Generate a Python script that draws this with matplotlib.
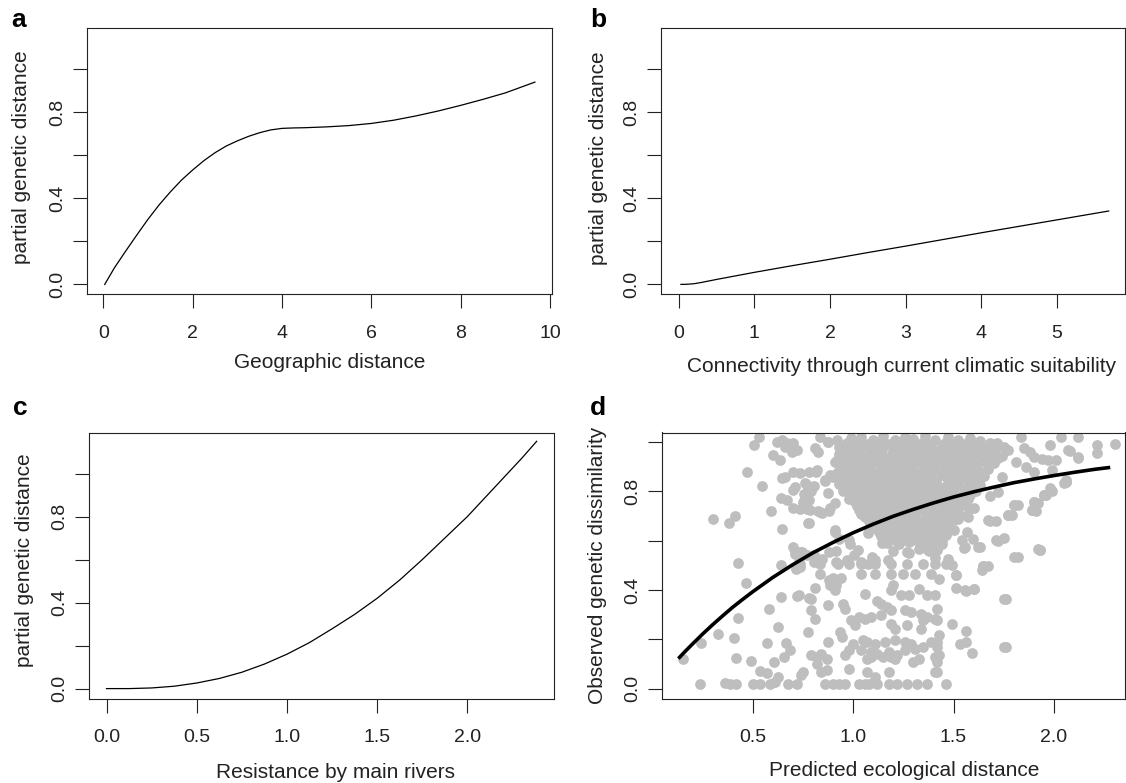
import matplotlib
matplotlib.use("Agg")
import matplotlib.pyplot as plt

plt.rcParams['font.family'] = ['Liberation Sans', 'DejaVu Sans']

# panel a: partial effect of geographic distance
geo_x = [0.03, 0.25, 0.5, 0.75, 1.0, 1.25, 1.5, 1.75, 2.0, 2.25, 2.5, 2.75, 3.0,
         3.25, 3.5, 3.75, 4.0, 4.25, 4.5, 5.0, 5.5, 6.0, 6.5, 7.0, 7.5, 8.0, 8.5, 9.0, 9.66]
geo_y = [0.0, 0.078, 0.155, 0.23, 0.303, 0.37, 0.43, 0.485, 0.532, 0.575, 0.612, 0.643, 0.667,
         0.688, 0.705, 0.718, 0.725, 0.727, 0.728, 0.732, 0.738, 0.748, 0.763, 0.783, 0.806,
         0.832, 0.86, 0.89, 0.94]

# panel b: connectivity through current climatic suitability
conn_x = [0.03, 0.1, 0.2, 0.3, 0.5, 1.0, 1.5, 2.0, 2.5, 3.0, 3.5, 4.0, 4.5, 5.0, 5.68]
conn_y = [0.0, 0.0005, 0.003, 0.009, 0.023, 0.056, 0.087, 0.117, 0.148, 0.178, 0.209,
          0.24, 0.27, 0.30, 0.341]

# panel c: resistance by main rivers
river_x = [0.0, 0.125, 0.25, 0.375, 0.5, 0.625, 0.75, 0.875, 1.0, 1.125, 1.25, 1.375, 1.5,
           1.625, 1.75, 1.875, 2.0, 2.1, 2.2, 2.3, 2.384]
river_y = [0.0, 0.0, 0.003, 0.011, 0.026, 0.047, 0.076, 0.114, 0.16, 0.214, 0.278, 0.345,
           0.42, 0.505, 0.60, 0.70, 0.80, 0.89, 0.98, 1.07, 1.15]

# panel d: fitted GDM curve
eco_x = [0.13, 0.16, 0.2, 0.25, 0.3, 0.35, 0.4, 0.45, 0.5, 0.6, 0.7, 0.8, 0.9, 1.0, 1.1,
         1.2, 1.3, 1.4, 1.5, 1.6, 1.7, 1.8, 1.9, 2.0, 2.1, 2.2, 2.28]
eco_y = [0.122, 0.148, 0.181, 0.221, 0.259, 0.295, 0.33, 0.362, 0.393, 0.451, 0.503, 0.551,
         0.593, 0.632, 0.667, 0.699, 0.727, 0.753, 0.777, 0.798, 0.817, 0.835, 0.85, 0.864,
         0.877, 0.889, 0.897]

# panel d: observed pairs, read region by region
pts_left = [(0.533, 1.02), (0.507, 0.988), (0.62, 1.001), (0.645, 1.008), (0.669, 0.994),
            (0.694, 0.961), (0.603, 0.947), (0.636, 0.927), (0.661, 0.981), (0.703, 0.994),
            (0.47, 0.878), (0.545, 0.822), (0.645, 0.853), (0.66, 0.86), (0.703, 0.88),
            (0.711, 0.819), (0.703, 0.805), (0.639, 0.772), (0.672, 0.765), (0.703, 0.731),
            (0.592, 0.722), (0.30, 0.687), (0.382, 0.670), (0.414, 0.699), (0.645, 0.646),
            (0.711, 0.56), (0.429, 0.508), (0.639, 0.502), (0.72, 0.489), (0.467, 0.43),
            (0.639, 0.373), (0.72, 0.375), (0.583, 0.324), (0.429, 0.285), (0.628, 0.251),
            (0.329, 0.222), (0.409, 0.204), (0.243, 0.186), (0.571, 0.187), (0.667, 0.187),
            (0.687, 0.157), (0.155, 0.119), (0.419, 0.123), (0.492, 0.114), (0.606, 0.11),
            (0.656, 0.128), (0.537, 0.073), (0.57, 0.062), (0.628, 0.046), (0.238, 0.019),
            (0.36, 0.025), (0.385, 0.019), (0.415, 0.019), (0.50, 0.02), (0.537, 0.02),
            (0.586, 0.02), (0.611, 0.026), (0.678, 0.02), (0.72, 0.02)]

pts_midleft = [(0.781, 0.878), (0.817, 0.88), (0.826, 0.96), (0.835, 1.02), (0.875, 0.998),
               (0.93, 0.98), (0.925, 0.93), (0.885, 0.865), (0.86, 0.847), (0.807, 0.82),
               (0.79, 0.80), (0.77, 0.827), (0.754, 0.79), (0.78, 0.763), (0.736, 0.73),
               (0.772, 0.73), (0.78, 0.67), (0.826, 0.72), (0.843, 0.714), (0.879, 0.72),
               (0.909, 0.636), (0.72, 0.968), (0.81, 0.975), (0.877, 1.0), (0.736, 0.873),
               (0.82, 0.887), (0.76, 0.833), (0.777, 0.80), (0.86, 0.84), (0.75, 0.758),
               (0.786, 0.724), (0.835, 0.717), (0.885, 0.731), (0.91, 0.751), (0.777, 0.67),
               (0.91, 0.643), (0.744, 0.555), (0.73, 0.515), (0.877, 0.792), (0.96, 0.833),
               (0.70, 0.575), (0.736, 0.554), (0.772, 0.540), (0.807, 0.513), (0.843, 0.527),
               (0.879, 0.554), (0.915, 0.513), (0.968, 0.520), (1.004, 0.540), (1.04, 0.513),
               (1.075, 0.507), (1.111, 0.520), (0.71, 0.547), (0.736, 0.493), (0.807, 0.54),
               (0.834, 0.466), (0.879, 0.439), (0.915, 0.419), (0.718, 0.486), (0.915, 0.56),
               (0.93, 0.608), (0.986, 0.588)]

pts_core = [(0.92, 1.01), (0.99, 1.015), (1.04, 1.02), (1.10, 1.01), (1.15, 1.025),
            (1.21, 1.01), (1.26, 1.02), (1.30, 1.012), (1.36, 1.025), (1.41, 1.01),
            (1.47, 1.02), (1.52, 1.008), (1.58, 1.015), (1.63, 1.005),
            (0.95, 0.98), (1.0, 0.975), (1.06, 0.985), (1.12, 0.978), (1.17, 0.99),
            (1.23, 0.975), (1.28, 0.985), (1.33, 0.98), (1.38, 0.99), (1.44, 0.978),
            (1.49, 0.985), (1.55, 0.975), (1.60, 0.982), (1.66, 0.972), (1.71, 0.98),
            (0.93, 0.95), (0.98, 0.945), (1.03, 0.955), (1.08, 0.948), (1.13, 0.952),
            (1.19, 0.945), (1.24, 0.955), (1.29, 0.95), (1.35, 0.945), (1.40, 0.955),
            (1.45, 0.948), (1.51, 0.952), (1.56, 0.944), (1.62, 0.955), (1.68, 0.948),
            (1.74, 0.945),
            (0.91, 0.92), (0.96, 0.915), (1.01, 0.925), (1.06, 0.918), (1.11, 0.922),
            (1.16, 0.915), (1.22, 0.925), (1.27, 0.918), (1.32, 0.922), (1.37, 0.915),
            (1.43, 0.925), (1.48, 0.918), (1.53, 0.92), (1.59, 0.914), (1.64, 0.922),
            (1.70, 0.915),
            (0.94, 0.89), (0.99, 0.885), (1.04, 0.895), (1.09, 0.888), (1.14, 0.892),
            (1.20, 0.885), (1.25, 0.895), (1.30, 0.888), (1.35, 0.892), (1.41, 0.885),
            (1.46, 0.895), (1.52, 0.888), (1.57, 0.89), (1.62, 0.884), (1.67, 0.892),
            (0.90, 0.86), (0.96, 0.855), (1.02, 0.865), (1.07, 0.858), (1.12, 0.862),
            (1.18, 0.855), (1.23, 0.865), (1.28, 0.858), (1.34, 0.862), (1.39, 0.855),
            (1.44, 0.865), (1.49, 0.858), (1.55, 0.86), (1.60, 0.854), (1.65, 0.862),
            (0.93, 0.83), (0.98, 0.825), (1.04, 0.835), (1.09, 0.828), (1.15, 0.832),
            (1.20, 0.825), (1.25, 0.835), (1.31, 0.828), (1.36, 0.832), (1.42, 0.825),
            (1.47, 0.835), (1.52, 0.828), (1.58, 0.83), (1.63, 0.824),
            (0.95, 0.80), (1.01, 0.795), (1.06, 0.805), (1.11, 0.798), (1.17, 0.802),
            (1.22, 0.795), (1.27, 0.805), (1.33, 0.798), (1.38, 0.802), (1.43, 0.795),
            (1.49, 0.805), (1.55, 0.798), (1.61, 0.80),
            (0.98, 0.77), (1.04, 0.765), (1.09, 0.775), (1.14, 0.768), (1.19, 0.772),
            (1.25, 0.765), (1.30, 0.775), (1.35, 0.768), (1.41, 0.772), (1.46, 0.765),
            (1.51, 0.775), (1.57, 0.768),
            (1.02, 0.74), (1.07, 0.735), (1.12, 0.745), (1.17, 0.738), (1.23, 0.742),
            (1.28, 0.735), (1.33, 0.745), (1.38, 0.738), (1.44, 0.742), (1.49, 0.735),
            (1.54, 0.745),
            (1.04, 0.71), (1.10, 0.705), (1.15, 0.715), (1.20, 0.708), (1.26, 0.712),
            (1.31, 0.705), (1.36, 0.715), (1.42, 0.708), (1.47, 0.712), (1.53, 0.705),
            (1.08, 0.68), (1.13, 0.675), (1.18, 0.685), (1.24, 0.678), (1.29, 0.682),
            (1.34, 0.675), (1.39, 0.685), (1.45, 0.678), (1.50, 0.682),
            (1.11, 0.65), (1.16, 0.645), (1.21, 0.655), (1.27, 0.648), (1.32, 0.652),
            (1.37, 0.645), (1.42, 0.655), (1.48, 0.648),
            (1.14, 0.62), (1.19, 0.615), (1.25, 0.625), (1.30, 0.618), (1.35, 0.622),
            (1.40, 0.615), (1.46, 0.625),
            (1.17, 0.59), (1.23, 0.585), (1.28, 0.595), (1.34, 0.588), (1.39, 0.592),
            (1.44, 0.585),
            (1.20, 0.56), (1.27, 0.555), (1.33, 0.565), (1.38, 0.558),
            (0.977, 0.603), (1.026, 0.562), (1.076, 0.63), (1.093, 0.535), (1.143, 0.589),
            (1.176, 0.521), (1.243, 0.603), (1.276, 0.549), (1.326, 0.616), (1.375, 0.562),
            (1.408, 0.528), (1.209, 0.657), (1.392, 0.643)]

# the blob is solid grey in the picture: second, staggered set of pairs in it
pts_core_fill = [(0.97, 0.995), (1.02, 0.998), (1.075, 0.992), (1.13, 0.997), (1.19, 0.993),
                 (1.24, 0.998), (1.29, 0.994), (1.345, 0.996), (1.39, 0.992), (1.455, 0.997),
                 (1.50, 0.993), (1.565, 0.996), (1.615, 0.992), (1.68, 0.995),
                 (0.96, 0.965), (1.03, 0.968), (1.09, 0.962), (1.145, 0.967), (1.20, 0.963),
                 (1.255, 0.966), (1.31, 0.962), (1.36, 0.968), (1.42, 0.964), (1.47, 0.967),
                 (1.53, 0.962), (1.58, 0.966), (1.64, 0.963), (1.70, 0.967),
                 (0.95, 0.935), (1.00, 0.932), (1.055, 0.937), (1.105, 0.933), (1.16, 0.936),
                 (1.215, 0.932), (1.265, 0.937), (1.32, 0.934), (1.375, 0.936), (1.425, 0.932),
                 (1.48, 0.937), (1.535, 0.933), (1.59, 0.936), (1.65, 0.932), (1.72, 0.935),
                 (0.93, 0.905), (0.985, 0.902), (1.035, 0.907), (1.085, 0.903), (1.14, 0.906),
                 (1.19, 0.902), (1.245, 0.907), (1.295, 0.904), (1.35, 0.906), (1.40, 0.902),
                 (1.455, 0.907), (1.505, 0.903), (1.56, 0.906), (1.615, 0.902), (1.67, 0.905),
                 (0.92, 0.875), (0.97, 0.872), (1.02, 0.877), (1.075, 0.873), (1.125, 0.876),
                 (1.175, 0.872), (1.23, 0.877), (1.28, 0.874), (1.33, 0.876), (1.385, 0.872),
                 (1.435, 0.877), (1.49, 0.873), (1.54, 0.876), (1.59, 0.872), (1.64, 0.875),
                 (0.94, 0.845), (0.995, 0.842), (1.05, 0.847), (1.10, 0.843), (1.155, 0.846),
                 (1.21, 0.842), (1.26, 0.847), (1.31, 0.844), (1.365, 0.846), (1.415, 0.842),
                 (1.47, 0.847), (1.52, 0.843), (1.575, 0.846), (1.625, 0.842),
                 (0.96, 0.815), (1.015, 0.812), (1.07, 0.817), (1.125, 0.813), (1.175, 0.816),
                 (1.23, 0.812), (1.285, 0.817), (1.34, 0.814), (1.39, 0.816), (1.445, 0.812),
                 (1.50, 0.817), (1.555, 0.813), (1.60, 0.815),
                 (0.99, 0.785), (1.045, 0.782), (1.10, 0.787), (1.15, 0.783), (1.205, 0.786),
                 (1.26, 0.782), (1.31, 0.787), (1.365, 0.784), (1.42, 0.786), (1.47, 0.782),
                 (1.525, 0.787), (1.58, 0.784),
                 (1.01, 0.755), (1.06, 0.752), (1.11, 0.757), (1.165, 0.753), (1.215, 0.756),
                 (1.27, 0.752), (1.32, 0.757), (1.37, 0.754), (1.425, 0.756), (1.475, 0.752),
                 (1.53, 0.755),
                 (1.03, 0.725), (1.085, 0.722), (1.135, 0.727), (1.19, 0.723), (1.24, 0.726),
                 (1.29, 0.722), (1.345, 0.727), (1.395, 0.724), (1.45, 0.726), (1.50, 0.722),
                 (1.06, 0.695), (1.11, 0.692), (1.16, 0.697), (1.215, 0.693), (1.265, 0.696),
                 (1.315, 0.692), (1.37, 0.697), (1.42, 0.694), (1.47, 0.695),
                 (1.09, 0.665), (1.14, 0.662), (1.195, 0.667), (1.245, 0.663), (1.295, 0.666),
                 (1.35, 0.662), (1.40, 0.667), (1.455, 0.664),
                 (1.13, 0.635), (1.18, 0.632), (1.23, 0.637), (1.285, 0.633), (1.335, 0.636),
                 (1.385, 0.632), (1.44, 0.635),
                 (1.16, 0.605), (1.21, 0.602), (1.26, 0.607), (1.315, 0.603), (1.365, 0.606),
                 (1.42, 0.602)]

pts_low = [(0.736, 0.507), (0.836, 0.507), (0.927, 0.507), (0.977, 0.507), (1.04, 0.507),
           (1.11, 0.507), (1.19, 0.507), (1.27, 0.507), (1.35, 0.507), (1.41, 0.507),
           (1.04, 0.466), (1.11, 0.466), (1.19, 0.466), (1.25, 0.466), (1.31, 0.466),
           (1.39, 0.466), (0.90, 0.447), (0.94, 0.447), (0.81, 0.408), (0.885, 0.42),
           (0.91, 0.399), (1.06, 0.385), (1.2, 0.419), (1.19, 0.40), (1.24, 0.38),
           (1.28, 0.38), (1.33, 0.405), (1.37, 0.38), (1.41, 0.38), (0.73, 0.38),
           (0.78, 0.367), (0.79, 0.364), (0.877, 0.338), (0.95, 0.345), (0.96, 0.325),
           (0.79, 0.318), (0.81, 0.284), (1.12, 0.357), (1.14, 0.345), (1.17, 0.331),
           (1.19, 0.318), (1.26, 0.318), (1.29, 0.311), (1.34, 0.304), (1.37, 0.29),
           (1.41, 0.284), (0.99, 0.277), (1.03, 0.29), (1.06, 0.284), (1.09, 0.29),
           (1.14, 0.297), (1.01, 0.257), (1.19, 0.264), (1.21, 0.243), (1.27, 0.257),
           (1.34, 0.243), (1.35, 0.277), (0.774, 0.23), (0.935, 0.23), (0.943, 0.21),
           (0.877, 0.189), (1.0, 0.182), (1.05, 0.196), (1.07, 0.189), (1.11, 0.182),
           (1.16, 0.189), (1.21, 0.196), (1.26, 0.189), (1.29, 0.182), (1.26, 0.155),
           (1.31, 0.162), (1.35, 0.169), (1.39, 0.189), (1.42, 0.169), (0.98, 0.155),
           (1.04, 0.155), (1.09, 0.149), (1.12, 0.142), (1.18, 0.149), (1.19, 0.128),
           (1.21, 0.121), (1.22, 0.135), (0.79, 0.135), (0.82, 0.128), (0.84, 0.142),
           (0.87, 0.121), (0.82, 0.101), (0.96, 0.135), (1.07, 0.121), (1.09, 0.128),
           (1.15, 0.128), (1.30, 0.108), (1.33, 0.121), (1.41, 0.128), (0.75, 0.068),
           (0.74, 0.054), (0.84, 0.068), (0.87, 0.074), (0.98, 0.081), (1.07, 0.068),
           (1.11, 0.048), (1.18, 0.068), (1.41, 0.068), (0.86, 0.02), (0.90, 0.02),
           (0.93, 0.02), (0.96, 0.02), (1.03, 0.02), (1.06, 0.02), (1.08, 0.02),
           (1.12, 0.02), (1.18, 0.02), (1.22, 0.02), (1.27, 0.02), (1.32, 0.02),
           (1.37, 0.02), (1.46, 0.507), (1.49, 0.50), (1.646, 0.497), (1.51, 0.46),
           (1.43, 0.446), (1.51, 0.408), (1.56, 0.395), (1.60, 0.403), (1.749, 0.365),
           (1.42, 0.324), (1.42, 0.277), (1.49, 0.263), (1.56, 0.233), (1.43, 0.216),
           (1.42, 0.189), (1.43, 0.135), (1.42, 0.108), (1.42, 0.068), (1.53, 0.182),
           (1.56, 0.189), (1.59, 0.145), (1.749, 0.169), (1.46, 0.02)]

pts_right = [(1.837, 1.02), (2.036, 1.02), (2.12, 1.02), (1.98, 0.988), (2.07, 0.967),
             (2.12, 0.94), (1.716, 0.994), (1.75, 0.98), (1.77, 0.967), (1.85, 0.974),
             (1.88, 0.96), (1.90, 0.94), (1.94, 0.933), (1.97, 0.926), (2.01, 0.926),
             (1.81, 0.92), (1.86, 0.90), (1.90, 0.88), (2.06, 0.846), (2.05, 0.833),
             (1.98, 0.812), (1.95, 0.785), (1.90, 0.758), (1.89, 0.724), (1.80, 0.745),
             (1.77, 0.704), (1.67, 0.684), (1.71, 0.602), (1.62, 0.575), (1.55, 0.569),
             (1.80, 0.535), (1.92, 0.565), (1.64, 0.48), (1.74, 0.858), (1.72, 0.797),
             (1.68, 0.783), (1.60, 0.731), (1.57, 0.697), (1.49, 0.724), (1.44, 0.711),
             (1.50, 0.643), (1.54, 0.602), (1.44, 0.602), (1.42, 0.561), (1.47, 0.527),
             (2.213, 0.988), (2.213, 0.954), (2.303, 0.99), (2.08, 0.963), (2.12, 0.935),
             (1.99, 0.886), (2.06, 0.839), (1.96, 0.785), (1.92, 0.753), (1.91, 0.722),
             (1.82, 0.743), (1.79, 0.705), (1.71, 0.681), (1.75, 0.61), (1.928, 0.562),
             (1.82, 0.535), (1.67, 0.497), (1.76, 0.363), (1.76, 0.17), (1.523, 0.689),
             (1.577, 0.73), (1.568, 0.635), (1.595, 0.608), (1.559, 0.574), (1.631, 0.574),
             (1.645, 0.496), (1.514, 0.46), (1.559, 0.40), (1.604, 0.404), (1.72, 0.60),
             (1.93, 0.563), (1.68, 0.68), (1.77, 0.705), (1.80, 0.745), (1.89, 0.725),
             (1.90, 0.757), (1.95, 0.784), (1.99, 0.803), (2.06, 0.838)]

W, H = 1126, 783
fig = plt.figure(figsize=(W / 100, H / 100), dpi=100)


def make_axes(left, top, right, bottom):
    return fig.add_axes([left / W, 1 - bottom / H, (right - left) / W, (bottom - top) / H])


def style(ax, box, xlab, ylab, xlab_px, ylab_px):
    left, top, right, bottom = box
    for sp in ax.spines.values():
        sp.set_linewidth(0.8)
        sp.set_color('#222222')
    ax.tick_params(length=10, width=0.8, color='#222222', labelsize=14, labelcolor='#222222')
    ax.tick_params(axis='x', pad=12)
    ax.tick_params(axis='y', pad=5, labelrotation=90)
    for lab in ax.get_yticklabels():
        lab.set_va('center')
    ax.set_xlabel(xlab, fontsize=15, color='#222222', va='center')
    ax.set_ylabel(ylab, fontsize=15, color='#222222', va='center')
    ax.xaxis.set_label_coords((xlab_px[0] - left) / (right - left),
                              (bottom - xlab_px[1]) / (bottom - top))
    ax.yaxis.set_label_coords((ylab_px[0] - left) / (right - left),
                              (bottom - ylab_px[1]) / (bottom - top))


y_ticks = [0.0, 0.2, 0.4, 0.6, 0.8, 1.0]
y_labels = ['0.0', '', '0.4', '', '0.8', '']

# a
box_a = (87.3, 28.3, 551.9, 294.3)
ax = make_axes(*box_a)
ax.plot(geo_x, geo_y, color='black', lw=0.9)
ax.set_xlim(-0.36, 10.04)
ax.set_ylim(-0.046, 1.19)
ax.set_xticks([0, 2, 4, 6, 8, 10])
ax.set_yticks(y_ticks, y_labels)
style(ax, box_a, 'Geographic distance', 'partial genetic distance', (329.8, 363), (21.5, 156.7))

# b
box_b = (661.4, 28.3, 1125.3, 294.3)
ax = make_axes(*box_b)
ax.plot(conn_x, conn_y, color='black', lw=0.9)
ax.set_xlim(-0.228, 5.9)
ax.set_ylim(-0.046, 1.19)
ax.set_xticks([0, 1, 2, 3, 4, 5])
ax.set_yticks(y_ticks, y_labels)
style(ax, box_b, 'Connectivity through current climatic suitability',
      'partial genetic distance', (902, 366.7), (599, 158))

# c
box_c = (89.0, 432.7, 554.0, 698.7)
ax = make_axes(*box_c)
ax.plot(river_x, river_y, color='black', lw=0.9)
ax.set_xlim(-0.097, 2.48)
ax.set_ylim(-0.047, 1.19)
ax.set_xticks([0.0, 0.5, 1.0, 1.5, 2.0], ['0.0', '0.5', '1.0', '1.5', '2.0'])
ax.set_yticks(y_ticks, y_labels)
style(ax, box_c, 'Resistance by main rivers', 'partial genetic distance', (335.7, 772), (25, 560.3))

# d
box_d = (661.7, 432.5, 1125.3, 698.7)
ax = make_axes(*box_d)
for pts in (pts_left, pts_midleft, pts_core, pts_core_fill, pts_low, pts_right):
    ax.scatter([p[0] for p in pts], [p[1] for p in pts], s=60, color='#bebebe',
               linewidths=0, zorder=2)
ax.plot(eco_x, eco_y, color='black', lw=2.6, zorder=3, solid_capstyle='butt',
        solid_joinstyle='round')
ax.set_xlim(0.047, 2.355)
ax.set_ylim(-0.0405, 1.0385)
ax.set_xticks([0.5, 1.0, 1.5, 2.0], ['0.5', '1.0', '1.5', '2.0'])
ax.set_yticks(y_ticks, y_labels)
style(ax, box_d, 'Predicted ecological distance', 'Observed genetic dissimilarity',
      (904, 770), (597, 565))

# panel letters
for letter, xp, yp in [('a', 11, 27), ('b', 590, 27), ('c', 12.6, 415), ('d', 590, 415)]:
    fig.text(xp / W, 1 - yp / H, letter, fontsize=19, fontweight='bold', ha='left', va='baseline')

fig.savefig('out.png', dpi=100)
